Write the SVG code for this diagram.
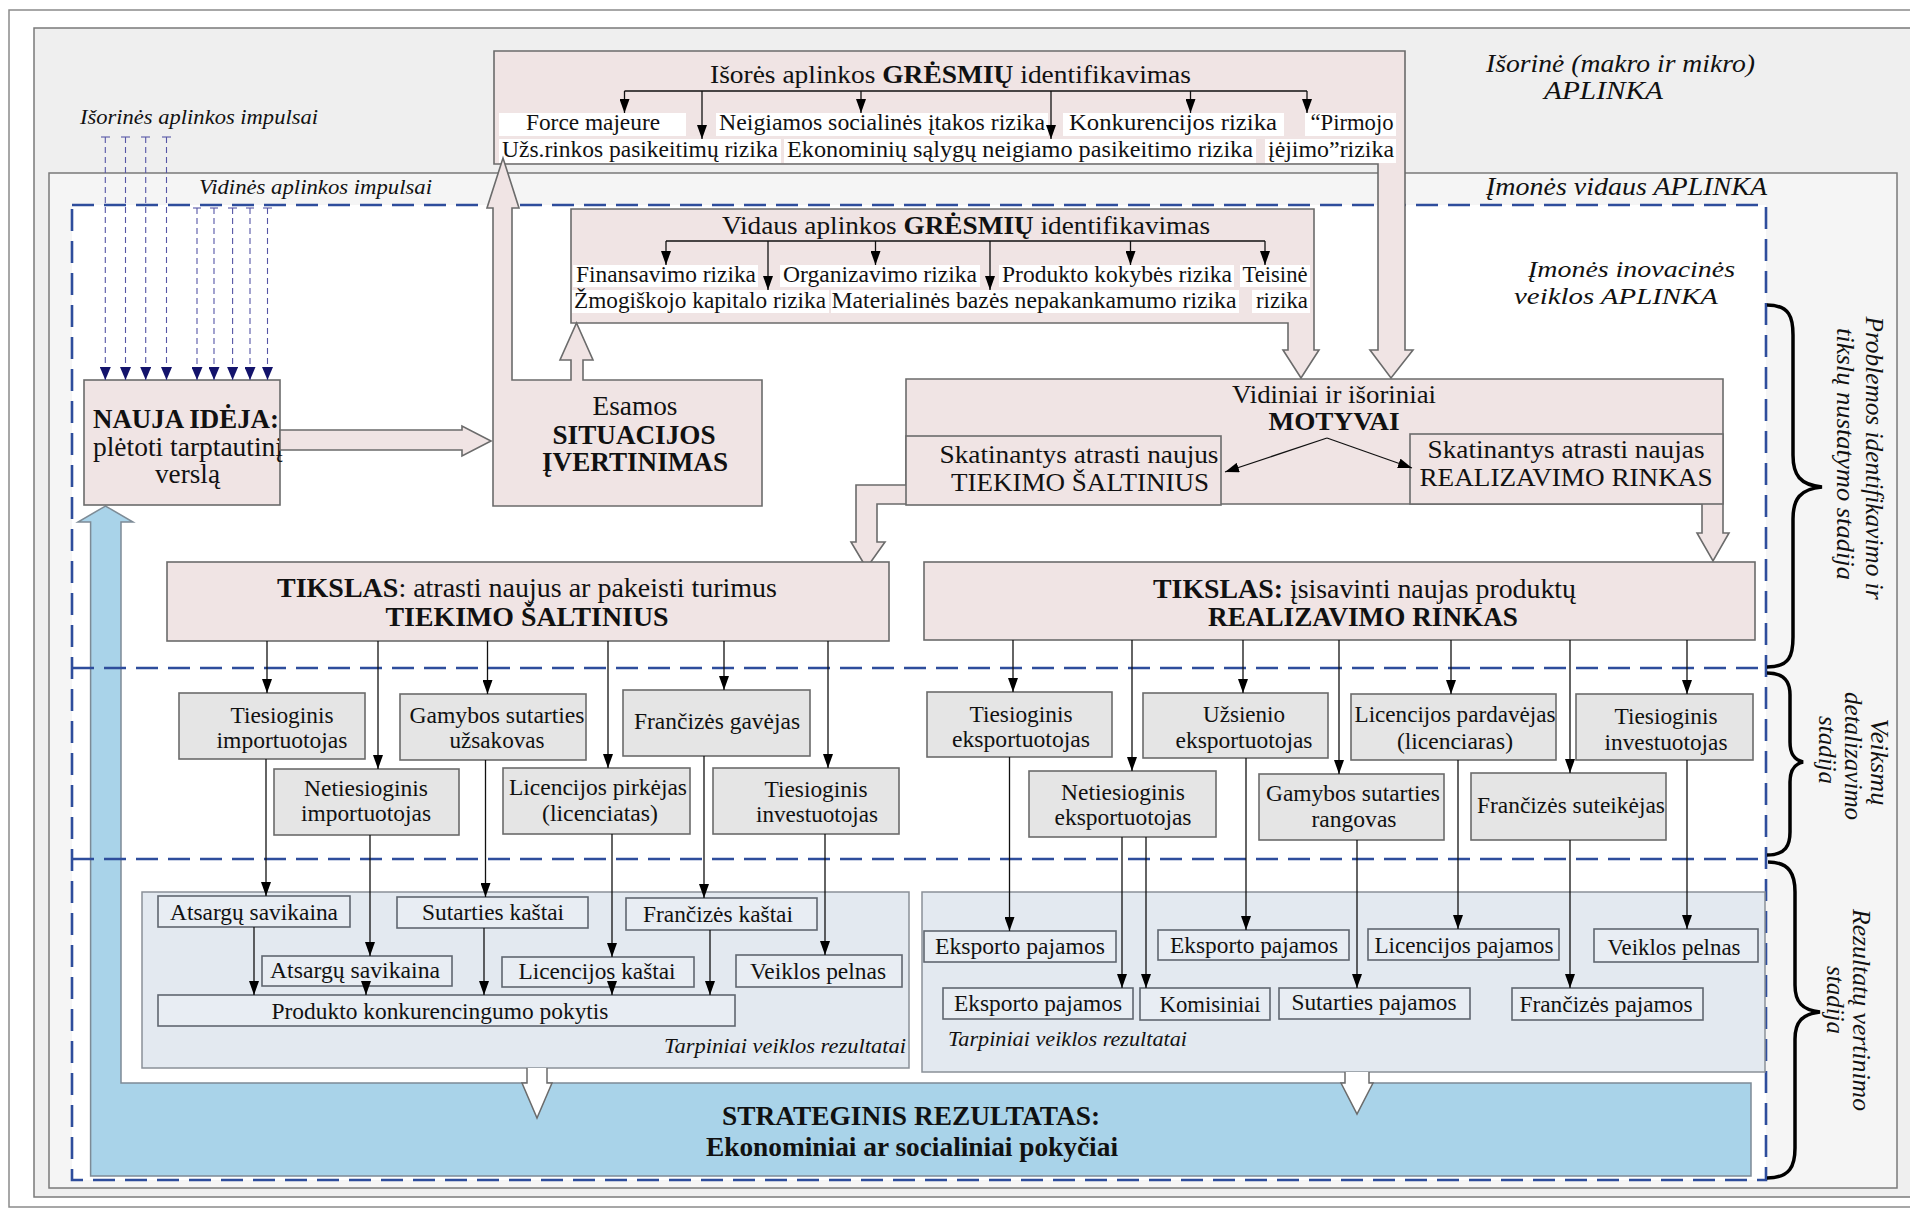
<svg xmlns="http://www.w3.org/2000/svg" width="1910" height="1210" viewBox="0 0 1910 1210">
<defs>
<style>
.t{font-family:"Liberation Serif","Times New Roman",serif;fill:#111}
.c{text-anchor:middle}
.e{text-anchor:end}
.b{font-weight:bold}
.i{font-style:italic}
.fs{font-size:22px}.fm{font-size:24px}.fn{font-size:25px}.fl{font-size:26px}.fx{font-size:27px}.fh{font-size:28px}
.pk{fill:#f0e4e4;stroke:#6b6b6b;stroke-width:1.6}
.gy{fill:#e5e5e5;stroke:#6b6b6b;stroke-width:1.6}
.rs{fill:#e8edf3;stroke:#5f6670;stroke-width:1.6}
.grp{fill:#e3e9f0;stroke:#8a9098;stroke-width:1.5}
.wb{fill:#fff}
.ln{stroke:#111;stroke-width:1.3;fill:none;marker-end:url(#ah)}
.pl{stroke:#111;stroke-width:1.3;fill:none}
.imp{stroke:#5656a6;stroke-width:1.1;stroke-dasharray:6 4;fill:none;marker-end:url(#nh)}
.tick{stroke:#5656a6;stroke-width:1.1}
.dash{stroke:#2e4d9c;stroke-width:2.6;stroke-dasharray:22 10;fill:none}
.brace{stroke:#000;stroke-width:3.5;fill:none}
.hol{fill:#fff;stroke:#6b6b6b;stroke-width:1.5}
</style>
<marker id="ah" viewBox="0 0 14 10" refX="14" refY="5" markerWidth="14" markerHeight="10" markerUnits="userSpaceOnUse" orient="auto">
<path d="M0,0 L14,5 L0,10 Z" fill="#000"/>
</marker>
<marker id="nh" viewBox="0 0 13 11" refX="13" refY="5.5" markerWidth="13" markerHeight="11" markerUnits="userSpaceOnUse" orient="auto">
<path d="M0,0 L13,5.5 L0,11 Z" fill="#13136b"/>
</marker>
</defs>

<!-- environment frames -->
<g id="environment">
<rect x="9" y="10" width="1910" height="1197" fill="#fff" stroke="#8a8a8a" stroke-width="1.5"/>
<rect x="34" y="28" width="1890" height="1169" fill="#efefef" stroke="#7a7a7a" stroke-width="1.5"/>
<rect x="49" y="173" width="1848" height="1015" fill="#f5f5f5" stroke="#7a7a7a" stroke-width="1.5"/>
<rect x="72" y="205" width="1694" height="975" fill="#fff"/>
<text class="t i fl" x="1486" y="72" textLength="269" lengthAdjust="spacingAndGlyphs">Išorinė (makro ir mikro)</text>
<text class="t i fl" x="1544" y="99" textLength="119" lengthAdjust="spacingAndGlyphs">APLINKA</text>
<text class="t i fs" x="80" y="124" textLength="238" lengthAdjust="spacingAndGlyphs">Išorinės aplinkos impulsai</text>
<text class="t i fs" x="199" y="194" textLength="233" lengthAdjust="spacingAndGlyphs">Vidinės aplinkos impulsai</text>
<text class="t i fl" x="1486" y="195" textLength="281" lengthAdjust="spacingAndGlyphs">Įmonės vidaus APLINKA</text>
<text class="t i fm" x="1528" y="277" textLength="207" lengthAdjust="spacingAndGlyphs">Įmonės inovacinės</text>
<text class="t i fm" x="1514" y="304" textLength="204" lengthAdjust="spacingAndGlyphs">veiklos APLINKA</text>
</g>

<!-- strategic result (blue L-shaped arrow) -->
<g id="strateginis-rezultatas">
<path d="M90.6,1176 V522 H78 L105.5,506 L133,522 H121 V1083 H1751 V1176 Z" fill="#a9d3e9" stroke="#7d8b96" stroke-width="1.5"/>
<text class="t b c fx" x="911" y="1125" textLength="378" lengthAdjust="spacingAndGlyphs">STRATEGINIS REZULTATAS:</text>
<text class="t b c fx" x="912" y="1156" textLength="412" lengthAdjust="spacingAndGlyphs">Ekonominiai ar socialiniai pokyčiai</text>
</g>

<!-- stage separators -->
<g id="stage-frame">
<rect x="72" y="205" width="1694" height="975" class="dash"/>
<line x1="72" y1="668" x2="1766" y2="668" class="dash"/>
<line x1="72" y1="859" x2="1766" y2="859" class="dash"/>
</g>

<!-- external threats -->
<g id="isores-gresmes">
<path class="pk" d="M494,51 H1405 V350 H1413 L1391,378 L1370,350 H1378 V164 H494 Z"/>
<text class="t fl" x="710" y="83" textLength="481" lengthAdjust="spacingAndGlyphs">Išorės aplinkos <tspan class="b">GRĖSMIŲ</tspan> identifikavimas</text>
<rect class="wb" x="499" y="113" width="187" height="23"/>
<rect class="wb" x="716" y="113" width="332" height="23"/>
<rect class="wb" x="1063" y="113" width="221" height="23"/>
<rect class="wb" x="1305" y="113" width="91" height="23"/>
<rect class="wb" x="499" y="139" width="282" height="24"/>
<rect class="wb" x="784" y="139" width="472" height="24"/>
<rect class="wb" x="1265" y="139" width="131" height="24"/>
<text class="t c fm" x="593" y="130" textLength="134" lengthAdjust="spacingAndGlyphs">Force majeure</text>
<text class="t c fm" x="882" y="130" textLength="326" lengthAdjust="spacingAndGlyphs">Neigiamos socialinės įtakos rizika</text>
<text class="t c fm" x="1173" y="130" textLength="208" lengthAdjust="spacingAndGlyphs">Konkurencijos  rizika</text>
<text class="t c fm" x="1352" y="130" textLength="83" lengthAdjust="spacingAndGlyphs">“Pirmojo</text>
<text class="t c fm" x="640" y="157" textLength="276" lengthAdjust="spacingAndGlyphs">Užs.rinkos pasikeitimų rizika</text>
<text class="t c fm" x="1020" y="157" textLength="466" lengthAdjust="spacingAndGlyphs">Ekonominių sąlygų neigiamo pasikeitimo rizika</text>
<text class="t c fm" x="1331" y="157" textLength="126" lengthAdjust="spacingAndGlyphs">įėjimo”rizika</text>
</g>

<!-- internal threats -->
<g id="vidaus-gresmes">
<path class="pk" d="M571,209 H1314 V350 H1319 L1301,378 L1283,350 H1288 V323 H571 Z"/>
<text class="t fl" x="722" y="234" textLength="488" lengthAdjust="spacingAndGlyphs">Vidaus aplinkos <tspan class="b">GRĖSMIŲ</tspan> identifikavimas</text>
<rect class="wb" x="573" y="265" width="185" height="22"/>
<rect class="wb" x="780" y="265" width="200" height="22"/>
<rect class="wb" x="999" y="265" width="235" height="22"/>
<rect class="wb" x="1240" y="265" width="70" height="22"/>
<rect class="wb" x="572" y="290" width="257" height="23"/>
<rect class="wb" x="831" y="290" width="408" height="23"/>
<rect class="wb" x="1252" y="290" width="58" height="23"/>
<text class="t c fm" x="666" y="282" textLength="180" lengthAdjust="spacingAndGlyphs">Finansavimo rizika</text>
<text class="t c fm" x="880" y="282" textLength="194" lengthAdjust="spacingAndGlyphs">Organizavimo rizika</text>
<text class="t c fm" x="1117" y="282" textLength="230" lengthAdjust="spacingAndGlyphs">Produkto kokybės rizika</text>
<text class="t c fm" x="1275" y="282" textLength="65" lengthAdjust="spacingAndGlyphs">Teisinė</text>
<text class="t c fm" x="700" y="308" textLength="252" lengthAdjust="spacingAndGlyphs">Žmogiškojo kapitalo rizika</text>
<text class="t c fm" x="1034" y="308" textLength="405" lengthAdjust="spacingAndGlyphs">Materialinės bazės nepakankamumo rizika</text>
<text class="t c fm" x="1282" y="308" textLength="52" lengthAdjust="spacingAndGlyphs">rizika</text>
</g>

<!-- new idea -->
<g id="nauja-ideja">
<rect class="pk" x="84" y="380" width="196" height="125"/>
<text class="t b fx" x="93" y="428" textLength="186" lengthAdjust="spacingAndGlyphs">NAUJA IDĖJA:</text>
<text class="t fx" x="93" y="456" textLength="190" lengthAdjust="spacingAndGlyphs">plėtoti tarptautinį</text>
<text class="t fx" x="155" y="483" textLength="65" lengthAdjust="spacingAndGlyphs">verslą</text>
</g>

<!-- current situation assessment -->
<g id="esamos-situacijos-ivertinimas">
<path class="pk" d="M493,506 V208 H487 L503,158 L519,208 H512 V380 H571 V360 H560 L576.5,323 L593,360 H583 V380 H762 V506 Z"/>
<text class="t c fx" x="635" y="415" textLength="85" lengthAdjust="spacingAndGlyphs">Esamos</text>
<text class="t b c fx" x="634" y="444" textLength="163" lengthAdjust="spacingAndGlyphs">SITUACIJOS</text>
<text class="t b c fx" x="635" y="471" textLength="186" lengthAdjust="spacingAndGlyphs">ĮVERTINIMAS</text>
</g>

<!-- motives -->
<g id="motyvai">
<path class="pk" d="M906,379 H1723 V533 H1729 L1713,561 L1697,533 H1702 V504 H877 V542 H885 L866.5,568 L851,542 H856 V485 H906 Z"/>
<rect class="pk" x="906" y="436" width="315" height="69"/>
<rect class="pk" x="1410" y="434" width="313" height="70"/>
<text class="t c fl" x="1334" y="403" textLength="204" lengthAdjust="spacingAndGlyphs">Vidiniai ir išoriniai</text>
<text class="t b c fl" x="1334" y="430" textLength="131" lengthAdjust="spacingAndGlyphs">MOTYVAI</text>
<text class="t c fn" x="1079" y="463" textLength="279" lengthAdjust="spacingAndGlyphs">Skatinantys atrasti naujus</text>
<text class="t c fn" x="1080" y="491" textLength="258" lengthAdjust="spacingAndGlyphs">TIEKIMO ŠALTINIUS</text>
<text class="t c fn" x="1566" y="458" textLength="277" lengthAdjust="spacingAndGlyphs">Skatinantys atrasti naujas</text>
<text class="t c fn" x="1566" y="486" textLength="293" lengthAdjust="spacingAndGlyphs">REALIZAVIMO RINKAS</text>
</g>

<!-- goals -->
<g id="tikslas-tiekimas">
<rect class="pk" x="167" y="562" width="722" height="79"/>
<text class="t fh" x="277" y="597" textLength="500" lengthAdjust="spacingAndGlyphs"><tspan class="b">TIKSLAS</tspan>: atrasti naujus ar pakeisti turimus</text>
<text class="t b c fh" x="527" y="626" textLength="283" lengthAdjust="spacingAndGlyphs">TIEKIMO ŠALTINIUS</text>
</g>
<g id="tikslas-rinkos">
<rect class="pk" x="924" y="562" width="831" height="78"/>
<text class="t fh" x="1153" y="598" textLength="423" lengthAdjust="spacingAndGlyphs"><tspan class="b">TIKSLAS:</tspan>  įsisavinti naujas produktų</text>
<text class="t b c fh" x="1363" y="626" textLength="310" lengthAdjust="spacingAndGlyphs">REALIZAVIMO RINKAS</text>
</g>

<!-- entry modes: supply side -->
<g id="tiesioginis-importuotojas">
<rect class="gy" x="179" y="693" width="186" height="66"/>
<text class="t c fm" x="282" y="723" textLength="103" lengthAdjust="spacingAndGlyphs">Tiesioginis</text>
<text class="t c fm" x="282" y="748" textLength="131" lengthAdjust="spacingAndGlyphs">importuotojas</text>
</g>
<g id="gamybos-uzsakovas">
<rect class="gy" x="400" y="694" width="186" height="66"/>
<text class="t c fm" x="497" y="723" textLength="175" lengthAdjust="spacingAndGlyphs">Gamybos sutarties</text>
<text class="t c fm" x="497" y="748" textLength="95" lengthAdjust="spacingAndGlyphs">užsakovas</text>
</g>
<g id="franchizes-gavejas">
<rect class="gy" x="623" y="690" width="187" height="66"/>
<text class="t c fm" x="717" y="729" textLength="166" lengthAdjust="spacingAndGlyphs">Frančizės gavėjas</text>
</g>
<g id="netiesioginis-importuotojas">
<rect class="gy" x="274" y="769" width="185" height="66"/>
<text class="t c fm" x="366" y="796" textLength="124" lengthAdjust="spacingAndGlyphs">Netiesioginis</text>
<text class="t c fm" x="366" y="821" textLength="130" lengthAdjust="spacingAndGlyphs">importuotojas</text>
</g>
<g id="licencijos-pirkejas">
<rect class="gy" x="503" y="768" width="187" height="66"/>
<text class="t c fm" x="598" y="795" textLength="178" lengthAdjust="spacingAndGlyphs">Licencijos pirkėjas</text>
<text class="t c fm" x="600" y="821" textLength="116" lengthAdjust="spacingAndGlyphs">(licenciatas)</text>
</g>
<g id="tiesioginis-investuotojas-1">
<rect class="gy" x="713" y="768" width="186" height="66"/>
<text class="t c fm" x="816" y="797" textLength="103" lengthAdjust="spacingAndGlyphs">Tiesioginis</text>
<text class="t c fm" x="817" y="822" textLength="122" lengthAdjust="spacingAndGlyphs">investuotojas</text>
</g>

<!-- entry modes: market side -->
<g id="tiesioginis-eksportuotojas">
<rect class="gy" x="927" y="692" width="185" height="65"/>
<text class="t c fm" x="1021" y="722" textLength="103" lengthAdjust="spacingAndGlyphs">Tiesioginis</text>
<text class="t c fm" x="1021" y="747" textLength="138" lengthAdjust="spacingAndGlyphs">eksportuotojas</text>
</g>
<g id="uzsienio-eksportuotojas">
<rect class="gy" x="1143" y="693" width="185" height="65"/>
<text class="t c fm" x="1244" y="722" textLength="82" lengthAdjust="spacingAndGlyphs">Užsienio</text>
<text class="t c fm" x="1244" y="748" textLength="137" lengthAdjust="spacingAndGlyphs">eksportuotojas</text>
</g>
<g id="licencijos-pardavejas">
<rect class="gy" x="1351" y="694" width="205" height="66"/>
<text class="t c fm" x="1455" y="722" textLength="201" lengthAdjust="spacingAndGlyphs">Licencijos pardavėjas</text>
<text class="t c fm" x="1455" y="749" textLength="116" lengthAdjust="spacingAndGlyphs">(licenciaras)</text>
</g>
<g id="tiesioginis-investuotojas-2">
<rect class="gy" x="1576" y="694" width="177" height="66"/>
<text class="t c fm" x="1666" y="724" textLength="103" lengthAdjust="spacingAndGlyphs">Tiesioginis</text>
<text class="t c fm" x="1666" y="750" textLength="123" lengthAdjust="spacingAndGlyphs">investuotojas</text>
</g>
<g id="netiesioginis-eksportuotojas">
<rect class="gy" x="1029" y="771" width="187" height="66"/>
<text class="t c fm" x="1123" y="800" textLength="124" lengthAdjust="spacingAndGlyphs">Netiesioginis</text>
<text class="t c fm" x="1123" y="825" textLength="137" lengthAdjust="spacingAndGlyphs">eksportuotojas</text>
</g>
<g id="gamybos-rangovas">
<rect class="gy" x="1259" y="774" width="185" height="66"/>
<text class="t c fm" x="1353" y="801" textLength="174" lengthAdjust="spacingAndGlyphs">Gamybos sutarties</text>
<text class="t c fm" x="1354" y="827" textLength="85" lengthAdjust="spacingAndGlyphs">rangovas</text>
</g>
<g id="franchizes-suteikejas">
<rect class="gy" x="1471" y="773" width="195" height="67"/>
<text class="t c fm" x="1571" y="813" textLength="188" lengthAdjust="spacingAndGlyphs">Frančizės suteikėjas</text>
</g>

<!-- intermediate results: supply side -->
<g id="rezultatai-tiekimas">
<rect class="grp" x="142" y="892" width="767" height="176"/>
<text class="t i e fs" x="906" y="1053" textLength="242" lengthAdjust="spacingAndGlyphs">Tarpiniai veiklos rezultatai</text>
</g>
<g id="atsargu-savikaina-1">
<rect class="rs" x="158" y="896" width="192" height="31"/>
<text class="t c fm" x="254" y="920" textLength="168" lengthAdjust="spacingAndGlyphs">Atsargų savikaina</text>
</g>
<g id="sutarties-kastai">
<rect class="rs" x="397" y="897" width="191" height="31"/>
<text class="t c fm" x="493" y="920" textLength="142" lengthAdjust="spacingAndGlyphs">Sutarties kaštai</text>
</g>
<g id="franchizes-kastai">
<rect class="rs" x="626" y="898" width="191" height="32"/>
<text class="t c fm" x="718" y="922" textLength="150" lengthAdjust="spacingAndGlyphs">Frančizės kaštai</text>
</g>
<g id="atsargu-savikaina-2">
<rect class="rs" x="262" y="956" width="190" height="30"/>
<text class="t c fm" x="355" y="978" textLength="170" lengthAdjust="spacingAndGlyphs">Atsargų savikaina</text>
</g>
<g id="licencijos-kastai">
<rect class="rs" x="502" y="957" width="192" height="30"/>
<text class="t c fm" x="597" y="979" textLength="157" lengthAdjust="spacingAndGlyphs">Licencijos kaštai</text>
</g>
<g id="veiklos-pelnas-1">
<rect class="rs" x="736" y="955" width="166" height="32"/>
<text class="t c fm" x="818" y="979" textLength="136" lengthAdjust="spacingAndGlyphs">Veiklos pelnas</text>
</g>
<g id="produkto-konkurencingumas">
<rect class="rs" x="158" y="995" width="577" height="31"/>
<text class="t c fm" x="440" y="1019" textLength="337" lengthAdjust="spacingAndGlyphs">Produkto konkurencingumo pokytis</text>
</g>

<!-- intermediate results: market side -->
<g id="rezultatai-rinkos">
<rect class="grp" x="922" y="892" width="843" height="180"/>
<text class="t i fs" x="948" y="1046" textLength="239" lengthAdjust="spacingAndGlyphs">Tarpiniai veiklos rezultatai</text>
</g>
<g id="eksporto-pajamos-1">
<rect class="rs" x="924" y="931" width="192" height="31"/>
<text class="t c fm" x="1020" y="954" textLength="170" lengthAdjust="spacingAndGlyphs">Eksporto pajamos</text>
</g>
<g id="eksporto-pajamos-2">
<rect class="rs" x="1158" y="930" width="191" height="30"/>
<text class="t c fm" x="1254" y="953" textLength="168" lengthAdjust="spacingAndGlyphs">Eksporto pajamos</text>
</g>
<g id="licencijos-pajamos">
<rect class="rs" x="1368" y="929" width="191" height="31"/>
<text class="t c fm" x="1464" y="953" textLength="179" lengthAdjust="spacingAndGlyphs">Licencijos pajamos</text>
</g>
<g id="veiklos-pelnas-2">
<rect class="rs" x="1594" y="929" width="164" height="33"/>
<text class="t c fm" x="1674" y="955" textLength="133" lengthAdjust="spacingAndGlyphs">Veiklos pelnas</text>
</g>
<g id="eksporto-pajamos-3">
<rect class="rs" x="943" y="988" width="190" height="31"/>
<text class="t c fm" x="1038" y="1011" textLength="168" lengthAdjust="spacingAndGlyphs">Eksporto pajamos</text>
</g>
<g id="komisiniai">
<rect class="rs" x="1140" y="988" width="130" height="32"/>
<text class="t c fm" x="1210" y="1012" textLength="101" lengthAdjust="spacingAndGlyphs">Komisiniai</text>
</g>
<g id="sutarties-pajamos">
<rect class="rs" x="1279" y="988" width="191" height="31"/>
<text class="t c fm" x="1374" y="1010" textLength="165" lengthAdjust="spacingAndGlyphs">Sutarties pajamos</text>
</g>
<g id="franchizes-pajamos">
<rect class="rs" x="1512" y="988" width="191" height="32"/>
<text class="t c fm" x="1606" y="1012" textLength="173" lengthAdjust="spacingAndGlyphs">Frančizės pajamos</text>
</g>

<!-- stage braces and labels -->
<g id="stadijos">
<path class="brace" d="M1767,305 C1790,305 1793,318 1793,335 V455 C1793,475 1800,485 1822,487 C1800,489 1793,499 1793,519 V637 C1793,655 1790,667 1767,667"/>
<path class="brace" d="M1767,673 C1786,673 1790,683 1790,695 V742 C1790,755 1795,760 1803,762 C1795,764 1790,769 1790,782 V832 C1790,845 1786,855 1767,855"/>
<path class="brace" d="M1768,862 C1790,862 1795,875 1795,892 V985 C1795,1002 1802,1010 1820,1012 C1802,1014 1795,1022 1795,1039 V1148 C1795,1166 1790,1178 1767,1178"/>
<text class="t i c fl" transform="translate(1866,458) rotate(90)" textLength="283" lengthAdjust="spacingAndGlyphs">Problemos identifikavimo ir</text>
<text class="t i c fl" transform="translate(1837,454) rotate(90)" textLength="252" lengthAdjust="spacingAndGlyphs">tikslų nustatymo stadija</text>
<text class="t i c fl" transform="translate(1871,762) rotate(90)" textLength="87" lengthAdjust="spacingAndGlyphs">Veiksmų</text>
<text class="t i c fl" transform="translate(1845,756) rotate(90)" textLength="128" lengthAdjust="spacingAndGlyphs">detalizavimo</text>
<text class="t i c fl" transform="translate(1819,750) rotate(90)" textLength="68" lengthAdjust="spacingAndGlyphs">stadija</text>
<text class="t i c fl" transform="translate(1853,1010) rotate(90)" textLength="202" lengthAdjust="spacingAndGlyphs">Rezultatų vertinimo</text>
<text class="t i c fl" transform="translate(1827,1000) rotate(90)" textLength="68" lengthAdjust="spacingAndGlyphs">stadija</text>
</g>

<!-- connectors -->
<g id="connectors">
<!-- idea to situation assessment -->
<path class="pk" d="M280,430 H462 V426 L491,441 L462,456 V450 H280 Z"/>
<!-- intermediate results into strategic result -->
<path class="hol" d="M527,1068 V1083 H522 L537,1118 L552,1083 H547 V1068"/>
<path class="hol" d="M1345,1072 V1083 H1341 L1357,1114 L1373,1083 H1369 V1072"/>
<!-- external impulses -->
<g>
<line class="tick" x1="101" y1="137" x2="110" y2="137"/><line class="tick" x1="121" y1="137" x2="130" y2="137"/>
<line class="tick" x1="141" y1="137" x2="150" y2="137"/><line class="tick" x1="162" y1="137" x2="171" y2="137"/>
<path class="imp" d="M105.3,137 V380"/><path class="imp" d="M125.5,137 V380"/>
<path class="imp" d="M145.7,137 V380"/><path class="imp" d="M166.5,137 V380"/>
<line class="tick" x1="193" y1="208" x2="201" y2="208"/><line class="tick" x1="210" y1="208" x2="218" y2="208"/>
<line class="tick" x1="228" y1="208" x2="237" y2="208"/><line class="tick" x1="246" y1="208" x2="254" y2="208"/>
<line class="tick" x1="263" y1="208" x2="272" y2="208"/>
<path class="imp" d="M197,208 V380"/><path class="imp" d="M214,208 V380"/>
<path class="imp" d="M232.6,208 V380"/><path class="imp" d="M250,208 V380"/>
<path class="imp" d="M267.5,208 V380"/>
</g>
<!-- external threat branches -->
<path class="pl" d="M624.5,91 H1307"/>
<path class="ln" d="M624.5,91 V113"/><path class="ln" d="M702,91 V139"/>
<path class="ln" d="M861,91 V113"/><path class="ln" d="M1051,91 V139"/>
<path class="ln" d="M1190.5,91 V113"/><path class="ln" d="M1307,91 V113"/>
<!-- internal threat branches -->
<path class="pl" d="M666,241 H1265"/>
<path class="ln" d="M666,241 V265"/><path class="ln" d="M768,241 V290"/>
<path class="ln" d="M875.5,241 V265"/><path class="ln" d="M990,241 V290"/>
<path class="ln" d="M1130.5,241 V265"/><path class="ln" d="M1265,241 V265"/>
<!-- motives split -->
<path class="ln" d="M1327,438 L1225,472"/>
<path class="ln" d="M1327,438 L1412,468"/>
<!-- supply goal to entry modes -->
<path class="ln" d="M267,641 V693"/><path class="ln" d="M378,641 V769"/>
<path class="ln" d="M487.5,641 V694"/><path class="ln" d="M608,641 V768"/>
<path class="ln" d="M724,641 V690"/><path class="ln" d="M828,641 V768"/>
<!-- market goal to entry modes -->
<path class="ln" d="M1013,640 V692"/><path class="ln" d="M1132,640 V771"/>
<path class="ln" d="M1243,640 V693"/><path class="ln" d="M1339,640 V774"/>
<path class="ln" d="M1451,640 V694"/><path class="ln" d="M1570,640 V773"/>
<path class="ln" d="M1687,640 V694"/>
<!-- supply entry modes to results -->
<path class="ln" d="M266,759 V896"/><path class="ln" d="M370,835 V956"/>
<path class="ln" d="M485.5,760 V897"/><path class="ln" d="M612,834 V957"/>
<path class="ln" d="M704,756 V898"/><path class="ln" d="M825,834 V955"/>
<path class="ln" d="M254,927 V995"/><path class="ln" d="M366,986 V995"/>
<path class="ln" d="M484,928 V995"/><path class="ln" d="M612,987 V995"/>
<path class="ln" d="M710,930 V995"/>
<!-- market entry modes to results -->
<path class="ln" d="M1009.5,757 V931"/><path class="ln" d="M1122,837 V988"/>
<path class="ln" d="M1146,837 V988"/><path class="ln" d="M1246,758 V930"/>
<path class="ln" d="M1357,840 V988"/><path class="ln" d="M1458,760 V929"/>
<path class="ln" d="M1570,840 V988"/><path class="ln" d="M1687,760 V929"/>
</g>
</svg>
